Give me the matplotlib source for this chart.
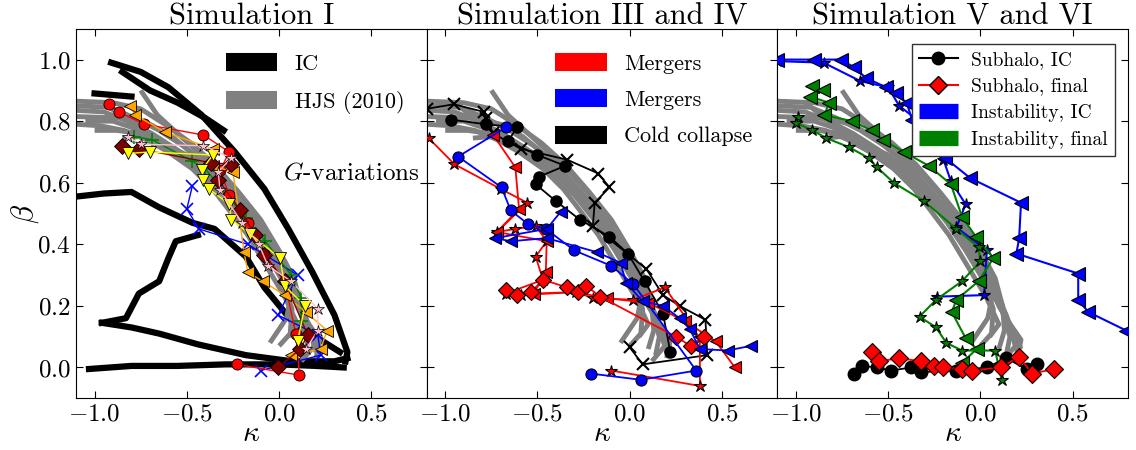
import matplotlib
matplotlib.use("Agg")
import matplotlib.pyplot as plt
from matplotlib.lines import Line2D

plt.rcParams['font.family'] = 'serif'
plt.rcParams['font.serif'] = ['cmr10']
plt.rcParams['mathtext.fontset'] = 'cm'
plt.rcParams['axes.formatter.use_mathtext'] = True

# --- HJS (2010) gray tracks, shared by all panels ---
hjs_k = [
    [-1.10, -0.90, -0.75, -0.62, -0.48, -0.35, -0.22, -0.10, 0.00, 0.08, 0.12, 0.13, 0.10],
    [-1.10, -0.92, -0.78, -0.65, -0.52, -0.40, -0.28, -0.16, -0.05, 0.05, 0.10, 0.16, 0.20],
    [-1.10, -0.95, -0.82, -0.70, -0.55, -0.42, -0.30, -0.18, -0.08, 0.02, 0.07, 0.06, 0.00],
    [-1.05, -0.90, -0.80, -0.68, -0.57, -0.45, -0.33, -0.24, -0.13, -0.03, 0.06, 0.14, 0.18],
    [-1.00, -0.88, -0.76, -0.64, -0.50, -0.38, -0.25, -0.14, -0.04, 0.04, 0.12, 0.16, 0.14],
    [-0.85, -0.75, -0.62, -0.50, -0.38, -0.26, -0.15, -0.05, 0.05, 0.10, 0.18, 0.22],
    [-0.75, -0.66, -0.55, -0.44, -0.32, -0.20, -0.10, 0.00, 0.07, 0.04, -0.05],
    [-1.10, -0.85, -0.70, -0.58, -0.46, -0.34, -0.22, -0.12, -0.02, 0.09, 0.15, 0.22, 0.20],
    [-1.10, -0.97, -0.84, -0.72, -0.60, -0.47, -0.36, -0.27, -0.17, -0.07, 0.03, 0.10, 0.05],
    [-0.95, -0.82, -0.69, -0.56, -0.43, -0.31, -0.19, -0.08, 0.02, 0.10, 0.16, 0.19, 0.12],
]
hjs_b = [
    [0.865, 0.86, 0.84, 0.79, 0.73, 0.66, 0.57, 0.48, 0.38, 0.29, 0.20, 0.12, 0.06],
    [0.85, 0.845, 0.81, 0.77, 0.72, 0.66, 0.58, 0.50, 0.41, 0.31, 0.22, 0.13, 0.05],
    [0.835, 0.83, 0.80, 0.76, 0.70, 0.63, 0.56, 0.47, 0.38, 0.28, 0.19, 0.11, 0.07],
    [0.80, 0.80, 0.78, 0.75, 0.71, 0.65, 0.59, 0.52, 0.44, 0.35, 0.26, 0.17, 0.09],
    [0.77, 0.77, 0.76, 0.73, 0.69, 0.63, 0.55, 0.46, 0.37, 0.27, 0.18, 0.10, 0.04],
    [0.745, 0.75, 0.72, 0.67, 0.61, 0.54, 0.46, 0.37, 0.27, 0.20, 0.12, 0.06],
    [0.90, 0.82, 0.76, 0.70, 0.63, 0.55, 0.46, 0.35, 0.25, 0.16, 0.08],
    [0.815, 0.81, 0.79, 0.75, 0.69, 0.62, 0.54, 0.45, 0.36, 0.25, 0.15, 0.09, 0.03],
    [0.79, 0.785, 0.77, 0.74, 0.70, 0.645, 0.58, 0.51, 0.43, 0.33, 0.23, 0.14, 0.10],
    [0.86, 0.80, 0.76, 0.71, 0.655, 0.59, 0.51, 0.42, 0.32, 0.22, 0.14, 0.07, 0.02],
]

# --- Simulation I: IC tracks (black) ---
ic_k = [
    [-0.91, -0.75, -0.60, -0.42, -0.24, -0.08, 0.05, 0.18, 0.30, 0.37, 0.36],
    [-0.85, -0.70, -0.55, -0.40, -0.30],
    [-1.10, -0.95, -0.80, -0.65, -0.47, -0.35, -0.18, -0.08, 0.07, 0.25, 0.33],
    [-0.96, -0.83, -0.76, -0.65, -0.60, -0.56, -0.44],
    [-0.96, -0.80, -0.65, -0.44, -0.18, 0.07, 0.30, 0.37],
    [-1.03, -0.80, -0.55, -0.29, 0.00, 0.20, 0.35],
    [-1.00, -0.90, -0.80],
]
ic_b = [
    [0.99, 0.96, 0.91, 0.82, 0.70, 0.58, 0.45, 0.31, 0.17, 0.05, 0.02],
    [0.96, 0.90, 0.86, 0.81, 0.77],
    [0.555, 0.565, 0.57, 0.52, 0.47, 0.45, 0.36, 0.26, 0.15, 0.08, 0.05],
    [0.145, 0.16, 0.24, 0.28, 0.355, 0.41, 0.43],
    [0.145, 0.13, 0.11, 0.075, 0.04, 0.02, 0.02, 0.03],
    [-0.005, 0.005, 0.005, 0.01, 0.01, 0.005, 0.0],
    [0.89, 0.885, 0.88],
]

# --- Simulation I: G-variations ---
gv_red_k = [-0.92, -0.87, -0.73, -0.41, -0.27, -0.32, -0.27, -0.17, -0.08, 0.03, 0.09, 0.11, -0.23]
gv_red_b = [0.855, 0.83, 0.79, 0.755, 0.70, 0.64, 0.56, 0.47, 0.37, 0.28, 0.11, -0.025, 0.01]
gv_orange_k = [-0.81, -0.78, -0.62, -0.36, -0.36, -0.25, -0.19, -0.17, -0.09, 0.03, 0.145, 0.26, 0.225, 0.065]
gv_orange_b = [0.85, 0.82, 0.765, 0.71, 0.655, 0.635, 0.375, 0.31, 0.28, 0.235, 0.18, 0.12, 0.06, 0.04]
gv_yellow_k = [-0.82, -0.70, -0.36, -0.42, -0.41, -0.38, -0.27, -0.26, -0.16, 0.005, 0.03, 0.14, 0.10]
gv_yellow_b = [0.695, 0.70, 0.69, 0.64, 0.61, 0.58, 0.53, 0.48, 0.435, 0.355, 0.265, 0.20, 0.085]
gv_maroon_k = [-0.85, -0.76, -0.37, -0.26, -0.33, -0.21, -0.13, -0.08, 0.03, 0.155, 0.115, -0.005]
gv_maroon_b = [0.72, 0.71, 0.665, 0.66, 0.61, 0.51, 0.43, 0.365, 0.28, 0.105, 0.06, 0.0]
gv_pink_k = [-0.82, -0.75, -0.41, -0.26, -0.33, -0.32, -0.20, -0.11, -0.06, 0.065, 0.21, 0.21, 0.145]
gv_pink_b = [0.75, 0.725, 0.72, 0.68, 0.635, 0.575, 0.47, 0.40, 0.33, 0.28, 0.19, 0.12, 0.06]
gv_green_k = [-0.785, -0.69, -0.47, -0.40, -0.18, -0.075, 0.065, 0.12, 0.12]
gv_green_b = [0.75, 0.74, 0.67, 0.645, 0.485, 0.41, 0.30, 0.225, 0.15]
gv_blue_k = [-0.47, -0.50, -0.435, -0.17, 0.10, -0.005, 0.21, 0.225, -0.10]
gv_blue_b = [0.59, 0.515, 0.45, 0.40, 0.30, 0.17, 0.105, 0.04, -0.01]

# --- Simulation III and IV ---
cc_x_k = [-1.10, -0.955, -0.79, -0.78, -0.74, -0.59, -0.34, -0.17, -0.11, -0.19, -0.20, 0.09, 0.18, 0.27, 0.41, 0.42, 0.07, 0.00]
cc_x_b = [0.84, 0.855, 0.83, 0.81, 0.76, 0.71, 0.675, 0.63, 0.585, 0.535, 0.46, 0.32, 0.235, 0.20, 0.155, 0.04, 0.01, 0.065]
cc_o_k = [-0.97, -0.78, -0.61, -0.66, -0.50, -0.35, -0.49, -0.51, -0.40, -0.27, -0.11, -0.01, 0.08, 0.18, 0.22]
cc_o_b = [0.805, 0.79, 0.78, 0.735, 0.69, 0.655, 0.62, 0.595, 0.54, 0.48, 0.425, 0.37, 0.28, 0.175, 0.05]
mb_o_k = [-0.67, -0.93, -0.695, -0.645, -0.55, -0.455, -0.30, -0.10, 0.02, 0.36, 0.06, -0.21]
mb_o_b = [0.78, 0.685, 0.585, 0.51, 0.465, 0.45, 0.38, 0.33, 0.27, -0.01, -0.04, -0.02]
mb_t_k = [-0.375, -0.45, -0.73, -0.645, -0.45, -0.18, -0.05, -0.02, 0.07, 0.18, 0.27, 0.325, 0.38, 0.53, 0.655]
mb_t_b = [0.505, 0.45, 0.42, 0.41, 0.42, 0.375, 0.34, 0.275, 0.215, 0.20, 0.16, 0.125, 0.06, 0.055, 0.07]
mr_s_k = [-1.09, -0.95, -0.70, -0.555, -0.72, -0.62, -0.51, -0.45, -0.51, -0.47, -0.67, -0.59, -0.29, -0.20, 0.02, 0.19, 0.38, 0.38, -0.10]
mr_s_b = [0.745, 0.66, 0.58, 0.535, 0.44, 0.45, 0.46, 0.41, 0.36, 0.285, 0.24, 0.235, 0.245, 0.225, 0.22, 0.26, 0.095, -0.06, -0.01]
mr_t_k = [-0.74, -0.62, -0.60, -0.72, -0.45, -0.455, -0.52, -0.30, -0.125, 0.10, 0.30, 0.465, 0.57]
mr_t_b = [0.755, 0.65, 0.515, 0.44, 0.41, 0.31, 0.24, 0.245, 0.225, 0.21, 0.15, 0.085, 0.0]
mr_d_k = [-0.67, -0.61, -0.535, -0.47, -0.34, -0.28, -0.235, -0.16, 0.25, 0.33, 0.40]
mr_d_b = [0.25, 0.235, 0.245, 0.285, 0.26, 0.245, 0.265, 0.23, 0.10, 0.07, 0.10]

# --- Simulation V and VI ---
sub_ic_k = [-0.685, -0.64, -0.56, -0.485, -0.375, -0.32, -0.13, 0.035, 0.14, 0.25, 0.305]
sub_ic_b = [-0.02, 0.005, 0.0, -0.01, 0.0, -0.015, -0.01, 0.0, 0.03, -0.005, 0.01]
sub_fin_k = [-0.59, -0.55, -0.44, -0.32, -0.25, -0.20, -0.10, -0.045, 0.11, 0.21, 0.28, 0.40]
sub_fin_b = [0.05, 0.02, 0.03, 0.02, 0.005, 0.0, -0.005, -0.01, 0.0, 0.035, -0.02, -0.005]
ins_ic_t_k = [-1.10, -0.90, -0.755, -0.685, -0.62, -0.51, -0.46, -0.40, -0.37, -0.19, -0.055, 0.22, 0.21, 0.195, 0.53, 0.53, 0.585, 0.79]
ins_ic_t_b = [1.0, 1.0, 1.0, 0.975, 0.94, 0.91, 0.89, 0.86, 0.805, 0.68, 0.615, 0.535, 0.42, 0.37, 0.305, 0.22, 0.18, 0.12]
ins_ic_s_k = [-1.10, -0.85, -0.65, -0.50, -0.44, -0.345, -0.20, -0.16, -0.08, -0.13, 0.035, 0.02, -0.235]
ins_ic_s_b = [0.995, 0.99, 0.93, 0.91, 0.85, 0.805, 0.675, 0.605, 0.53, 0.455, 0.38, 0.235, 0.23]
ins_fin_t_k = [-0.91, -0.855, -0.925, -0.82, -0.845, -0.695, -0.59, -0.53, -0.415, -0.28, -0.16, -0.10, -0.025, 0.07, -0.01, -0.13, -0.155, -0.08, -0.02, -0.10]
ins_fin_t_b = [0.915, 0.90, 0.88, 0.86, 0.82, 0.80, 0.77, 0.74, 0.70, 0.655, 0.595, 0.49, 0.425, 0.355, 0.28, 0.22, 0.18, 0.095, 0.06, 0.015]
ins_fin_s_k = [-0.99, -1.00, -0.91, -0.835, -0.71, -0.605, -0.56, -0.47, -0.305, -0.13, -0.01, 0.00, -0.10, -0.24, -0.33, -0.24, -0.185, -0.10, 0.08, 0.115]
ins_fin_s_b = [0.815, 0.795, 0.77, 0.745, 0.715, 0.68, 0.65, 0.60, 0.54, 0.45, 0.39, 0.345, 0.28, 0.22, 0.165, 0.13, 0.08, 0.055, 0.055, -0.04]

titles = ["Simulation I", "Simulation III and IV", "Simulation V and VI"]


def draw_hjs(ax):
    for k, b in zip(hjs_k, hjs_b):
        ax.plot(k, b, color='gray', lw=3.5, solid_capstyle='butt', zorder=1)


fig, axes = plt.subplots(1, 3, figsize=(11.36, 4.5), dpi=100, sharey=True)
fig.subplots_adjust(left=0.067, right=0.993, bottom=0.115, top=0.936, wspace=0)

# Panel 1
ax = axes[0]
for k, b in zip(ic_k, ic_b):
    ax.plot(k, b, color='black', lw=4.5, zorder=0)
draw_hjs(ax)
ms = 8
ax.plot(gv_blue_k, gv_blue_b, color='blue', lw=1, marker='x', ms=9, mew=1.2, zorder=3)
ax.plot(gv_green_k, gv_green_b, color='green', lw=1, marker='+', ms=10, mew=1.2, zorder=3)
ax.plot(gv_red_k, gv_red_b, color='red', lw=1, marker='o', ms=ms, mfc='red', mec='black', mew=0.6, zorder=3)
ax.plot(gv_orange_k, gv_orange_b, color='orange', lw=1, marker='<', ms=ms + 1, mfc='orange', mec='black', mew=0.6, zorder=3)
ax.plot(gv_maroon_k, gv_maroon_b, color='#800000', lw=1, marker='D', ms=ms, mfc='#800000', mec='black', mew=0.6, zorder=3)
ax.plot(gv_yellow_k, gv_yellow_b, color='yellow', lw=1, marker='v', ms=ms + 1, mfc='yellow', mec='black', mew=0.6, zorder=3)
ax.plot(gv_pink_k, gv_pink_b, color='pink', lw=1, marker='*', ms=ms + 1, mfc='pink', mec='black', mew=0.5, zorder=3)
ax.text(0.765, 0.63, r"$G$-variations", fontsize=18, ha='right', va='center')
h1 = [Line2D([], [], color='black', lw=13, solid_capstyle='butt'),
      Line2D([], [], color='gray', lw=13, solid_capstyle='butt')]
ax.legend(h1, ["IC", "HJS (2010)"], loc='upper left', bbox_to_anchor=(0.37, 0.985),
          frameon=False, fontsize=16, handlelength=2.3, labelspacing=0.75, handletextpad=0.8)

# Panel 2
ax = axes[1]
draw_hjs(ax)
ax.plot(cc_x_k, cc_x_b, color='black', lw=1.3, marker='x', ms=9, mew=1.5, zorder=3)
ax.plot(cc_o_k, cc_o_b, color='black', lw=1.3, marker='o', ms=ms, zorder=3)
ax.plot(mr_s_k, mr_s_b, color='red', lw=1.3, marker='*', ms=ms + 1, mfc='red', mec='black', mew=0.8, zorder=3)
ax.plot(mr_t_k, mr_t_b, color='red', lw=1.3, marker='<', ms=ms + 1, mfc='red', mec='black', mew=0.8, zorder=3)
ax.plot(mr_d_k, mr_d_b, color='red', lw=1.3, marker='D', ms=ms, mfc='red', mec='black', mew=0.8, zorder=3)
ax.plot(mb_o_k, mb_o_b, color='blue', lw=1.3, marker='o', ms=ms, mfc='blue', mec='black', mew=0.8, zorder=4)
ax.plot(mb_t_k, mb_t_b, color='blue', lw=1.3, marker='<', ms=ms + 1, mfc='blue', mec='black', mew=0.8, zorder=4)
h2 = [Line2D([], [], color=c, lw=13, solid_capstyle='butt') for c in ['red', 'blue', 'black']]
ax.legend(h2, ["Mergers", "Mergers", "Cold collapse"], loc='upper left', bbox_to_anchor=(0.31, 0.985),
          frameon=False, fontsize=16, handlelength=2.3, labelspacing=0.75, handletextpad=0.8)

# Panel 3
ax = axes[2]
draw_hjs(ax)
ax.plot(ins_ic_s_k, ins_ic_s_b, color='blue', lw=1.5, marker='*', ms=ms + 1, mfc='blue', mec='black', mew=0.8, zorder=3)
ax.plot(ins_ic_t_k, ins_ic_t_b, color='blue', lw=1.5, marker='<', ms=ms + 2, mfc='blue', mec='black', mew=0.8, zorder=3)
ax.plot(ins_fin_t_k, ins_fin_t_b, color='green', lw=1.5, marker='<', ms=ms + 2, mfc='green', mec='black', mew=0.8, zorder=4)
ax.plot(ins_fin_s_k, ins_fin_s_b, color='green', lw=1.5, marker='*', ms=ms + 1, mfc='green', mec='black', mew=0.8, zorder=4)
ax.plot(sub_ic_k, sub_ic_b, color='black', lw=1.3, marker='o', ms=ms + 1, zorder=4)
ax.plot(sub_fin_k, sub_fin_b, color='red', lw=1.3, marker='D', ms=ms + 1, mfc='red', mec='black', mew=0.8, zorder=5)
h3 = [Line2D([], [], color='black', lw=1.5, marker='o', ms=9),
      Line2D([], [], color='red', lw=1.5, marker='D', ms=9, mfc='red', mec='black'),
      Line2D([], [], color='blue', lw=11, solid_capstyle='butt'),
      Line2D([], [], color='green', lw=11, solid_capstyle='butt')]
leg = ax.legend(h3, ["Subhalo, IC", "Subhalo, final", "Instability, IC", "Instability, final"],
                loc='upper right', bbox_to_anchor=(0.99, 0.985), fontsize=14, handlelength=2.0,
                labelspacing=0.45, handletextpad=0.7, borderpad=0.35, fancybox=False, framealpha=1)
leg.get_frame().set_edgecolor('#333333')

for i, ax in enumerate(axes):
    ax.set_xlim(-1.1, 0.8)
    ax.set_ylim(-0.1, 1.1)
    ax.set_xticks([-1.0, -0.5, 0.0, 0.5])
    ax.set_yticks([0.0, 0.2, 0.4, 0.6, 0.8, 1.0])
    ax.tick_params(direction='in', length=5, top=True, right=True, labelsize=18, pad=4)
    ax.set_title(titles[i], fontsize=22, pad=3)
    ax.set_xlabel(r"$\kappa$", fontsize=21, labelpad=-4)
axes[0].set_ylabel(r"$\beta$", fontsize=22, labelpad=-3)

fig.savefig("out.png", dpi=100)
